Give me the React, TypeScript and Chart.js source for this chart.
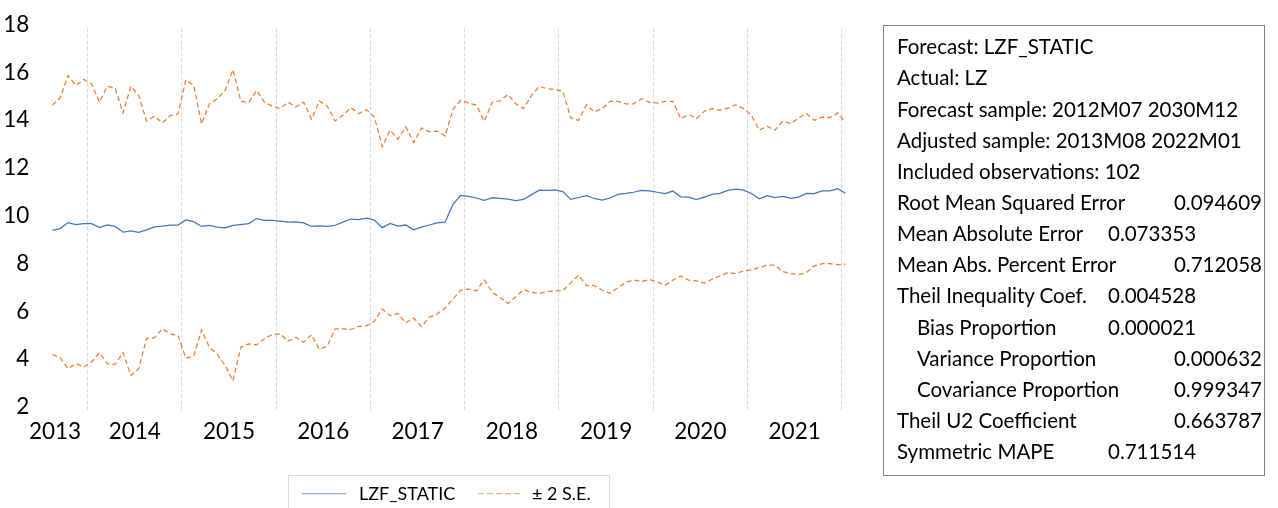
import React, { useEffect, useRef } from "react";
import { Chart, registerables } from "chart.js";

Chart.register(...registerables);

// ---------- data ----------
const START_YEAR = 2013;
const START_MONTH = 8; // 2013M08
const N_OBS = 102;

const months: string[] = Array.from({ length: N_OBS }, (_, i) => {
  const m = START_MONTH - 1 + i;
  return `${START_YEAR + Math.floor(m / 12)}M${String((m % 12) + 1).padStart(2, "0")}`;
});

const forecast = [
  9.56, 9.63, 9.88, 9.8, 9.84, 9.84, 9.67, 9.78, 9.72, 9.48,
  9.53, 9.47, 9.58, 9.7, 9.73, 9.77, 9.78, 9.99, 9.92, 9.72,
  9.76, 9.69, 9.66, 9.76, 9.8, 9.84, 10.05, 9.97, 9.97, 9.94,
  9.9, 9.91, 9.87, 9.72, 9.74, 9.72, 9.77, 9.9, 10.03, 10.01,
  10.07, 9.99, 9.67, 9.85, 9.73, 9.78, 9.58, 9.69, 9.78, 9.87,
  9.9, 10.64, 11.02, 10.98, 10.91, 10.81, 10.92, 10.89, 10.86, 10.8,
  10.85, 11.05, 11.24, 11.23, 11.25, 11.18, 10.85, 10.93, 11.01, 10.89,
  10.82, 10.91, 11.06, 11.1, 11.15, 11.23, 11.21, 11.15, 11.09, 11.2,
  10.96, 10.95, 10.84, 10.95, 11.06, 11.1, 11.23, 11.28, 11.24, 11.1,
  10.88, 11.01, 10.93, 10.98, 10.89, 10.95, 11.1, 11.09, 11.21, 11.21,
  11.3, 11.1,
];

const upperSE = [
  14.79, 15.1, 16.03, 15.62, 15.87, 15.69, 14.92, 15.58, 15.51, 14.47,
  15.58, 15.2, 14.13, 14.33, 14.05, 14.35, 14.43, 15.85, 15.62, 14.0,
  14.85, 15.06, 15.41, 16.28, 14.95, 14.9, 15.41, 14.92, 14.75, 14.65,
  14.92, 14.72, 14.92, 14.21, 14.97, 14.75, 14.13, 14.37, 14.69, 14.44,
  14.6, 14.3, 13.05, 13.75, 13.37, 13.89, 13.23, 13.84, 13.68, 13.71,
  13.5, 14.62, 15.0, 14.88, 14.79, 14.12, 14.92, 14.97, 15.24, 14.85,
  14.65, 15.2, 15.58, 15.48, 15.45, 15.37, 14.26, 14.16, 14.81, 14.51,
  14.65, 14.95, 14.95, 14.85, 14.85, 15.06, 14.92, 14.88, 14.95, 14.95,
  14.23, 14.4, 14.23, 14.54, 14.65, 14.58, 14.67, 14.81, 14.65, 14.37,
  13.75, 13.91, 13.75, 14.13, 14.02, 14.26, 14.44, 14.16, 14.29, 14.27,
  14.47, 14.06,
];

const lowerSE = [
  4.36, 4.23, 3.77, 3.98, 3.84, 4.05, 4.44, 3.98, 3.95, 4.44,
  3.49, 3.77, 5.04, 5.06, 5.44, 5.23, 5.16, 4.21, 4.3, 5.39,
  4.67, 4.37, 3.91, 3.26, 4.67, 4.81, 4.77, 5.02, 5.2, 5.23,
  4.92, 5.09, 4.88, 5.19, 4.58, 4.71, 5.44, 5.44, 5.41, 5.54,
  5.57, 5.75, 6.27, 5.99, 6.08, 5.69, 5.89, 5.53, 5.92, 6.06,
  6.31, 6.68, 7.06, 7.1, 7.03, 7.48, 6.96, 6.75, 6.5, 6.78,
  7.08, 6.96, 6.92, 6.99, 7.03, 7.03, 7.37, 7.68, 7.24, 7.24,
  7.06, 6.92, 7.16, 7.37, 7.48, 7.41, 7.5, 7.4, 7.26, 7.47,
  7.65, 7.47, 7.44, 7.35, 7.51, 7.65, 7.79, 7.75, 7.86, 7.9,
  8.0, 8.1, 8.1, 7.83, 7.75, 7.7, 7.79, 8.07, 8.16, 8.16,
  8.12, 8.14,
];

const yMin = 2;
const yMax = 18;
const yStep = 2;

const headerLines = [
  "Forecast: LZF_STATIC",
  "Actual: LZ",
  "Forecast sample: 2012M07 2030M12",
  "Adjusted sample: 2013M08 2022M01",
  "Included observations: 102",
];
const statNames = [
  "Root Mean Squared Error",
  "Mean Absolute Error",
  "Mean Abs. Percent Error",
  "Theil Inequality Coef.",
  "Bias Proportion",
  "Variance Proportion",
  "Covariance Proportion",
  "Theil U2 Coefficient",
  "Symmetric MAPE",
];
const statValues = [
  "0.094609",
  "0.073353",
  "0.712058",
  "0.004528",
  "0.000021",
  "0.000632",
  "0.999347",
  "0.663787",
  "0.711514",
];
// layout of stat rows: indent flag and value column ("m" = middle, "r" = right)
const statIndent = [false, false, false, false, true, true, true, false, false];
const statCol = ["r", "m", "r", "m", "m", "r", "r", "r", "m"];

const legendNames = ["LZF_STATIC", "\u00b1 2 S.E."];

// ---------- derived x ticks (year boundaries & mid-year labels) ----------
const gridTicks: number[] = [];
const labelTicks: { v: number; label: string }[] = [];
{
  const years = Array.from(new Set(months.map((m) => m.slice(0, 4))));
  years.forEach((y) => {
    const idxs = months.map((m, i) => (m.startsWith(y) ? i : -1)).filter((i) => i >= 0);
    const first = idxs[0];
    const janIdx = months.indexOf(`${y}M01`);
    if (janIdx > 0) gridTicks.push(janIdx - 0.5);
    if (janIdx >= 0) {
      const mid = janIdx + 5.5;
      if (mid <= N_OBS - 1) labelTicks.push({ v: mid, label: y });
    } else {
      labelTicks.push({ v: first + 0.35, label: y });
    }
  });
}
const isGridTick = (v: number) => gridTicks.some((g) => Math.abs(g - v) < 1e-6);
const labelAt = (v: number) => {
  const t = labelTicks.find((l) => Math.abs(l.v - v) < 1e-6);
  return t ? t.label : "";
};

const BLUE = "#4472C4";
const ORANGE = "#ED7D31";
const FONT = "Lato, 'Open Sans', sans-serif";

export default function App() {
  const ref = useRef<HTMLCanvasElement>(null);

  useEffect(() => {
    if (!ref.current) return;
    const toPts = (arr: number[]) => arr.map((y, i) => ({ x: i, y }));
    const chart = new Chart(ref.current, {
      type: "line",
      data: {
        datasets: [
          {
            label: legendNames[0],
            data: toPts(forecast),
            borderColor: BLUE,
            borderWidth: 1.25,
            pointRadius: 0,
            tension: 0,
            fill: false,
          },
          {
            label: "+2 S.E.",
            data: toPts(upperSE),
            borderColor: ORANGE,
            borderWidth: 1.25,
            borderDash: [5, 3],
            pointRadius: 0,
            tension: 0,
            fill: false,
          },
          {
            label: "-2 S.E.",
            data: toPts(lowerSE),
            borderColor: ORANGE,
            borderWidth: 1.25,
            borderDash: [5, 3],
            pointRadius: 0,
            tension: 0,
            fill: false,
          },
        ],
      },
      options: {
        animation: false,
        responsive: false,
        events: [],
        layout: { padding: { left: 0, top: 26, right: 34.3, bottom: 57 } },
        plugins: { legend: { display: false }, tooltip: { enabled: false } },
        scales: {
          x: {
            type: "linear",
            min: 0,
            max: N_OBS - 1,
            afterFit: (s: any) => {
              s.height = 40;
            },
            afterBuildTicks: (s: any) => {
              const vals = [...gridTicks, ...labelTicks.map((l) => l.v)].sort((a, b) => a - b);
              s.ticks = vals.map((value) => ({ value }));
            },
            ticks: {
              autoSkip: false,
              maxRotation: 0,
              minRotation: 0,
              padding: 7.5,
              color: "#000",
              font: { family: FONT, size: 22.5 },
              callback: (v: any) => labelAt(Number(v)),
            },
            grid: {
              drawTicks: false,
              lineWidth: 1,
              color: (ctx: any) =>
                ctx.tick && isGridTick(ctx.tick.value) ? "#dadada" : "rgba(0,0,0,0)",
            },
            border: { display: false, dash: [4, 2] },
          },
          y: {
            min: yMin,
            max: yMax,
            afterFit: (s: any) => {
              s.width = 52.3;
            },
            ticks: {
              stepSize: yStep,
              padding: 15,
              labelOffset: -4,
              color: "#000",
              font: { family: FONT, size: 22.5 },
            },
            grid: { display: false },
            border: { display: false },
          },
        },
      },
    });
    return () => chart.destroy();
  }, []);

  const rowTop = (k: number) => 46.7 + 31.15 * k - 15.5;
  const rowStyle = (k: number): React.CSSProperties => ({
    position: "absolute",
    top: rowTop(k),
    height: 31,
    lineHeight: "31px",
    whiteSpace: "nowrap",
  });

  return (
    <div
      style={{
        position: "absolute",
        left: 0,
        top: 0,
        width: 1278,
        height: 508,
        overflow: "hidden",
        background: "#fff",
        fontFamily: FONT,
        color: "#000",
      }}
    >
      <canvas
        ref={ref}
        width={880}
        height={508}
        style={{ position: "absolute", left: 0, top: 0, width: 880, height: 508 }}
      />

      {/* legend */}
      <div
        style={{
          position: "absolute",
          left: 288,
          top: 475,
          width: 322,
          height: 40,
          border: "1px solid #dcdcdc",
          boxSizing: "border-box",
        }}
      />
      <svg
        style={{ position: "absolute", left: 0, top: 480, overflow: "visible" }}
        width={700}
        height={28}
      >
        <line x1={302} x2={346} y1={13.5} y2={13.5} stroke="#8faadc" strokeWidth={1.25} />
        <line
          x1={478}
          x2={521}
          y1={13.5}
          y2={13.5}
          stroke="#f4b183"
          strokeWidth={1.25}
          strokeDasharray="6 3"
        />
      </svg>
      <div style={{ position: "absolute", left: 359, top: 478, height: 30, lineHeight: "30px", fontSize: 18, whiteSpace: "nowrap" }}>
        {legendNames[0]}
      </div>
      <div style={{ position: "absolute", left: 532, top: 478, height: 30, lineHeight: "30px", fontSize: 18, whiteSpace: "nowrap" }}>
        {legendNames[1]}
      </div>

      {/* statistics box */}
      <div
        style={{
          position: "absolute",
          left: 883,
          top: 25,
          width: 382,
          height: 451,
          border: "1px solid #7f7f7f",
          boxSizing: "border-box",
        }}
      />
      <div style={{ position: "absolute", left: 0, top: 0, width: 1278, height: 508, fontSize: 20.5 }}>
        {headerLines.map((t, k) => (
          <div key={"h" + k} style={{ ...rowStyle(k), left: 897 }}>
            {t}
          </div>
        ))}
        {statNames.map((t, j) => {
          const k = headerLines.length + j;
          return (
            <React.Fragment key={"s" + j}>
              <div style={{ ...rowStyle(k), left: statIndent[j] ? 917 : 897 }}>{t}</div>
              {statCol[j] === "m" ? (
                <div style={{ ...rowStyle(k), left: 1108 }}>{statValues[j]}</div>
              ) : (
                <div style={{ ...rowStyle(k), right: 1278 - 1262, textAlign: "right" }}>
                  {statValues[j]}
                </div>
              )}
            </React.Fragment>
          );
        })}
      </div>
    </div>
  );
}
